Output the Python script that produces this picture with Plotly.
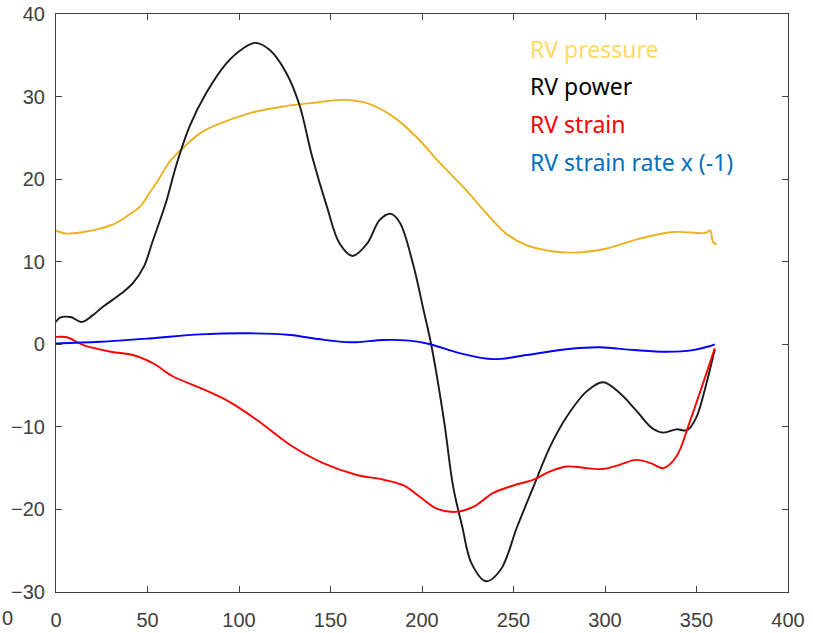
import plotly.graph_objects as go

# RV pressure
pres_x = [0, 2, 6, 15, 24, 33, 40, 46, 51, 57, 62, 70, 79, 88, 106, 124, 139, 157, 170, 184, 197, 210, 224, 235, 246, 257, 270, 283, 301, 319, 337, 355, 357.5, 359, 361]
pres_y = [13.8, 13.6, 13.4, 13.6, 14.0, 14.7, 15.7, 16.7, 18.3, 20.3, 22.1, 23.9, 25.6, 26.6, 28.0, 28.8, 29.2, 29.6, 29.2, 27.6, 25.1, 21.9, 18.7, 15.9, 13.4, 12.0, 11.3, 11.1, 11.6, 12.8, 13.6, 13.5, 13.8, 12.4, 12.1]

# RV power
pow_x = [0, 2, 8, 14, 20, 26, 36, 42, 48, 53, 60, 66, 73, 82, 93, 102, 109, 117, 126, 133, 140, 148, 155, 162, 170, 177, 183, 188, 195, 201, 205, 212, 217, 222, 227, 235, 243, 252, 261, 270, 279, 290, 299, 308, 317, 326, 332, 339, 345, 350, 355, 360]
pow_y = [2.7, 3.2, 3.3, 2.7, 3.5, 4.6, 6.2, 7.4, 9.4, 12.6, 17.1, 21.9, 26.4, 30.4, 34.0, 35.8, 36.5, 35.6, 32.8, 29.0, 22.7, 16.7, 12.2, 10.7, 12.2, 15.1, 15.8, 14.7, 9.8, 4.0, 0.0, -9.2, -17.2, -22.1, -26.5, -28.7, -27.3, -22.1, -17.2, -12.4, -8.8, -5.7, -4.6, -5.9, -8.0, -10.2, -10.7, -10.3, -10.4, -8.8, -5.1, -0.6]

# RV strain
str_x = [0, 1, 6, 15, 30, 42, 53, 64, 79, 95, 110, 128, 146, 164, 179, 190, 199, 208, 218, 228, 239, 250, 261, 270, 279, 290, 299, 308, 317, 325, 332, 339, 346, 353, 360]
str_y = [0.9, 0.9, 0.85, -0.1, -0.9, -1.3, -2.3, -3.9, -5.3, -7.0, -9.2, -12.2, -14.4, -15.8, -16.4, -17.1, -18.5, -19.9, -20.3, -19.7, -18.0, -17.1, -16.4, -15.4, -14.8, -15.0, -15.1, -14.6, -14.0, -14.4, -15.0, -13.6, -9.6, -5.1, -0.5]

# RV strain rate x (-1)
rate_x = [0, 24, 51, 79, 106, 128, 143, 161, 179, 193, 204, 221, 239, 257, 279, 297, 316, 334, 348, 356, 360]
rate_y = [0.1, 0.3, 0.7, 1.2, 1.33, 1.13, 0.64, 0.24, 0.52, 0.44, 0.04, -1.1, -1.8, -1.3, -0.6, -0.36, -0.7, -0.9, -0.7, -0.3, 0.0]

x_ticks = [0, 50, 100, 150, 200, 250, 300, 350, 400]
y_ticks = [-30, -20, -10, 0, 10, 20, 30, 40]

legend_labels = ["RV pressure", "RV power", "RV strain", "RV strain rate x (-1)"]
legend_colors = ["#FFD966", "#000000", "#FF0000", "#0070C0"]

fig = go.Figure()
line_style = dict(width=1.9, shape="spline", smoothing=1.0)
fig.add_trace(go.Scatter(x=pres_x, y=pres_y, mode="lines", line=dict(color="#EDB120", **line_style)))
fig.add_trace(go.Scatter(x=pow_x, y=pow_y, mode="lines", line=dict(color="#1a1a1a", **line_style)))
fig.add_trace(go.Scatter(x=str_x, y=str_y, mode="lines", line=dict(color="#FF0000", **line_style)))
fig.add_trace(go.Scatter(x=rate_x, y=rate_y, mode="lines", line=dict(color="#0000FF", **line_style)))

axis_common = dict(
    showgrid=False, zeroline=False, showline=True, linecolor="#404040", linewidth=1.2,
    mirror="ticks", ticks="inside", ticklen=6, tickcolor="#404040", tickwidth=1.2,
    tickfont=dict(family="Liberation Sans, Arial", size=20, color="#404040"),
    automargin=False,
)
fig.update_xaxes(range=[0, 400], tickvals=x_ticks, ticklabelstandoff=10, **axis_common)
fig.update_yaxes(range=[-30, 40], tickvals=y_ticks, ticklabelstandoff=6, **axis_common)

W, H = 813, 633
plot_l, plot_r, plot_t, plot_b = 56, 788, 14, 592
pw, ph = plot_r - plot_l, plot_b - plot_t
ys = [49, 86, 124, 162]
for lab, col, yp in zip(legend_labels, legend_colors, ys):
    fig.add_annotation(
        x=(528 - plot_l) / pw, y=(plot_b - yp) / ph,
        xref="x domain", yref="y domain", text=lab, showarrow=False,
        font=dict(family="Noto Sans", size=23, color=col), xanchor="left", yanchor="middle",
    )
# small glyph at the far lower-left edge of the reference image
fig.add_annotation(
    x=(0 - plot_l) / pw, y=(plot_b - 618) / ph, xref="paper", yref="paper",
    text="0", showarrow=False,
    font=dict(family="Liberation Sans, Arial", size=20, color="#404040"),
    xanchor="left", yanchor="middle",
)

fig.update_layout(
    width=W, height=H,
    margin=dict(l=plot_l, r=W - plot_r, t=plot_t, b=H - plot_b, autoexpand=False),
    paper_bgcolor="white", plot_bgcolor="white",
    showlegend=False,
)
fig.write_html(
    "out.html",
    config={"displayModeBar": False},
    post_script="document.body.style.margin='0';document.body.style.overflow='hidden';",
)
